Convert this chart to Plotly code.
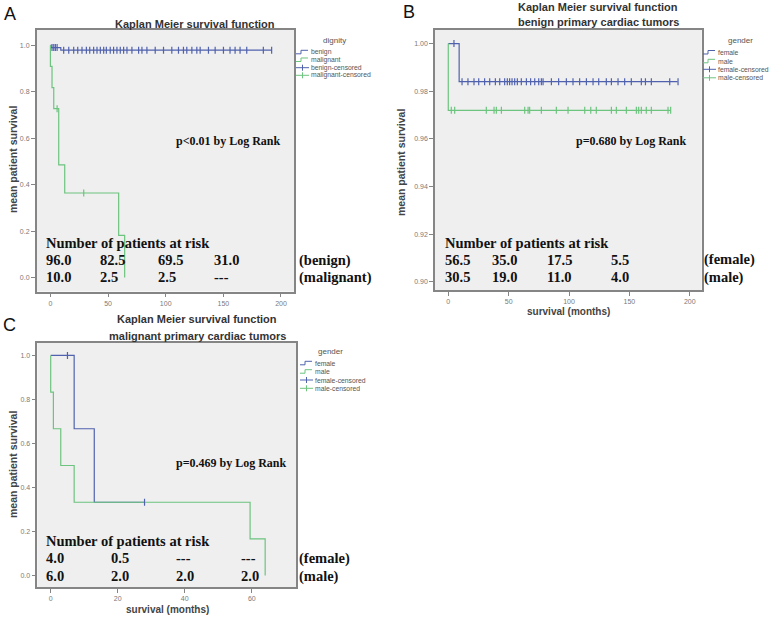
import plotly.graph_objects as go

W, H = 778, 617

# ---------------- data ----------------
# Panel A: all primary cardiac tumors, by dignity
a_benign_t = [0, 0.5, 9, 192]
a_benign_s = [1.0, 0.99, 0.979, 0.979]
a_benign_cens_t = [1.4, 2.9, 4.3, 5.8, 11.5, 15.9, 20.2, 23.7, 27.4, 31.2, 34.1, 37.5,
                   40.4, 43.3, 46.2, 48.5, 51.9, 54.8, 57.7, 60.6, 63.5, 66.4, 70.7, 76.5,
                   79.4, 83.7, 90.9, 98.1, 105.3, 111.1, 115.4, 118.3, 122.7, 127.0, 129.9,
                   137.1, 142.9, 150.1, 155.8, 160.2, 164.5, 170.3, 184.7, 191.9]
a_malig_t = [0, 0, 1.4, 2.9, 7.2, 12.4, 59.2, 64.4]
a_malig_s = [1.0, 0.909, 0.818, 0.727, 0.485, 0.364, 0.182, 0.0]
a_malig_cens_t = [5.8, 28.9]

# Panel B: benign tumors, by gender
b_female_t = [0, 9, 190]
b_female_s = [1.0, 0.984, 0.984]
b_female_cens_t = [4.7, 11.4, 16.3, 21.3, 25.2, 30.1, 34.3, 39.0, 42.6, 46.7, 48.9, 50.8,
                   52.8, 55.0, 57.2, 60.5, 64.7, 68.2, 71.6, 74.9, 77.1, 78.5, 85.4, 91.4,
                   97.8, 103.3, 108.8, 114.4, 119.9, 124.6, 130.9, 135.1, 140.6, 146.1,
                   151.6, 159.9, 163.3, 168.2, 183.4, 190.3]
b_male_t = [0, 0, 184.2]
b_male_s = [1.0, 0.972, 0.972]
b_male_cens_t = [2.5, 5.3, 31.5, 37.9, 39.8, 44.0, 63.3, 66.1, 67.4, 77.1, 89.5, 99.2,
                 113.0, 118.0, 122.6, 135.1, 139.2, 147.5, 155.8, 157.7, 159.9, 164.0,
                 168.2, 182.0, 184.2]

# Panel C: malignant tumors, by gender
c_female_t = [0, 7, 13, 28]
c_female_s = [1.0, 0.667, 0.333, 0.333]
c_female_cens_t = [5, 28]
c_male_t = [0, 0, 0.8, 3, 7, 59.5, 64]
c_male_s = [1.0, 0.833, 0.667, 0.5, 0.333, 0.167, 0.0]

# number at risk tables
a_risk_rows = [["96.0", "82.5", "69.5", "31.0"], ["10.0", "2.5", "2.5", "---"]]
a_risk_labels = ["(benign)", "(malignant)"]
b_risk_rows = [["56.5", "35.0", "17.5", "5.5"], ["30.5", "19.0", "11.0", "4.0"]]
b_risk_labels = ["(female)", "(male)"]
c_risk_rows = [["4.0", "0.5", "---", "---"], ["6.0", "2.0", "2.0", "2.0"]]
c_risk_labels = ["(female)", "(male)"]

a_legend = ["benign", "malignant", "benign-censored", "malignant-censored"]
g_legend = ["female", "male", "female-censored", "male-censored"]

BLUE = "#5062ae"
GREEN = "#6cc47e"


def surv_at(t, times, surv):
    val = surv[0]
    for ti, si in zip(times, surv):
        if ti <= t:
            val = si
    return val


def px(x):
    return x / W


def py(y):
    return 1 - y / H


fig = go.Figure()


def curve(t, s, color, ax):
    fig.add_trace(go.Scatter(x=t, y=s, mode="lines", line=dict(color=color, width=1.2, shape="hv"),
                             xaxis="x" + ax, yaxis="y" + ax, showlegend=False, hoverinfo="skip"))


def cens(ct, t, s, color, ax):
    fig.add_trace(go.Scatter(x=ct, y=[surv_at(v, t, s) for v in ct], mode="markers",
                             marker=dict(symbol="line-ns", size=5, line=dict(color=color, width=1.2)),
                             xaxis="x" + ax, yaxis="y" + ax, showlegend=False, hoverinfo="skip"))


curve(a_benign_t, a_benign_s, BLUE, "")
curve(a_malig_t, a_malig_s, GREEN, "")
cens(a_benign_cens_t, a_benign_t, a_benign_s, BLUE, "")
cens(a_malig_cens_t, a_malig_t, a_malig_s, GREEN, "")

curve(b_female_t, b_female_s, BLUE, "2")
curve(b_male_t, b_male_s, GREEN, "2")
cens(b_female_cens_t, b_female_t, b_female_s, BLUE, "2")
cens(b_male_cens_t, b_male_t, b_male_s, GREEN, "2")

curve(c_female_t, c_female_s, BLUE, "3")
curve(c_male_t, c_male_s, GREEN, "3")
cens(c_female_cens_t, c_female_t, c_female_s, BLUE, "3")

axis_common = dict(showline=True, mirror=True, linecolor="#858585", linewidth=1.5,
                   showgrid=False, zeroline=False, ticks="outside", ticklen=4,
                   tickcolor="#858585", tickwidth=1,
                   tickfont=dict(family="Liberation Sans", size=7, color="#7a7a7a"))

fig.update_layout(
    width=W, height=H, margin=dict(l=0, r=0, t=0, b=0),
    paper_bgcolor="white", plot_bgcolor="#efefef", showlegend=False,
    xaxis=dict(domain=[px(36.7), px(294)], range=[-11.9, 211.3], tickvals=[0, 50, 100, 150, 200],
               anchor="y", **axis_common),
    yaxis=dict(domain=[py(291.5), py(29.5)], range=[-0.060, 1.068], tickvals=[0, 0.2, 0.4, 0.6, 0.8, 1.0],
               tickformat=".1f", anchor="x", **axis_common),
    xaxis2=dict(domain=[px(435), px(701.7)], range=[-11.0, 209.9], tickvals=[0, 50, 100, 150, 200],
                anchor="y2", **axis_common),
    yaxis2=dict(domain=[py(290), py(30)], range=[0.8966, 1.0057],
                tickvals=[0.90, 0.92, 0.94, 0.96, 0.98, 1.00], tickformat=".2f", anchor="x2", **axis_common),
    xaxis3=dict(domain=[px(37.3), px(296)], range=[-4.0, 73.2], tickvals=[0, 20, 40, 60],
                anchor="y3", **axis_common),
    yaxis3=dict(domain=[py(587), py(342.7)], range=[-0.052, 1.058], tickvals=[0, 0.2, 0.4, 0.6, 0.8, 1.0],
                tickformat=".1f", anchor="x3", **axis_common),
)

ann = []
shapes = []
SANS = "Liberation Sans"
SERIF = "Liberation Serif"


def text(x, y, s, size, color="#222", family=SANS, xanchor="center", angle=0):
    ann.append(dict(x=px(x), y=py(y), xref="paper", yref="paper", text=s, showarrow=False,
                    xanchor=xanchor, yanchor="middle", textangle=angle, borderpad=0,
                    font=dict(family=family, size=size, color=color)))


# panel letters
text(10, 14, "A", 18, "#111")
text(409, 12, "B", 18, "#111")
text(9, 325, "C", 18, "#111")

# titles
text(195, 24, "<b>Kaplan Meier survival function</b>", 11, "#333")
text(598, 7, "<b>Kaplan Meier survival function</b>", 11, "#333")
text(598, 22, "<b>benign primary cardiac tumors</b>", 11, "#333")
text(197, 319, "<b>Kaplan Meier survival function</b>", 11, "#333")
text(197, 336, "<b>malignant primary cardiac tumors</b>", 11, "#333")

# axis titles
text(13, 160, "<b>mean patient survival</b>", 10.5, "#444", angle=-90)
text(401, 163, "<b>mean patient survival</b>", 10.5, "#444", angle=-90)
text(13, 465, "<b>mean patient survival</b>", 10.5, "#444", angle=-90)
text(568, 311, "<b>survival (months)</b>", 10, "#444")
text(167, 609, "<b>survival (months)</b>", 10, "#444")

# p-values
text(175, 141, "<b>p<0.01 by Log Rank</b>", 12, "#111", SERIF, "left")
text(575, 141, "<b>p=0.680 by Log Rank</b>", 12, "#111", SERIF, "left")
text(175, 463, "<b>p=0.469 by Log Rank</b>", 12, "#111", SERIF, "left")


def risk(x0, ys, cols, rows, labels, label_x):
    text(x0, ys[0], "<b>Number of patients at risk</b>", 14.5, "#111", SERIF, "left")
    for r, row in enumerate(rows):
        for c, v in enumerate(row):
            text(cols[c], ys[r + 1], "<b>%s</b>" % v, 14.5, "#111", SERIF, "left")
        text(label_x, ys[r + 1], "<b>%s</b>" % labels[r], 14.5, "#111", SERIF, "left")


risk(45, [243, 260, 277], [45, 99.3, 156.7, 213.3], a_risk_rows, a_risk_labels, 298.3)
risk(444, [243, 259.5, 277], [444, 490.7, 546.3, 609.7], b_risk_rows, b_risk_labels, 703)
risk(45, [541, 558, 576], [45, 110, 175, 240], c_risk_rows, c_risk_labels, 298.3)


def legend(title, tx, ty, ix, iys, labels):
    text(tx, ty, title, 8, "#555")
    colors = [BLUE, GREEN, BLUE, GREEN]
    for k, (lab, yy) in enumerate(zip(labels, iys)):
        col = colors[k]
        if k < 2:
            path = "M %f,%f L %f,%f L %f,%f L %f,%f" % (
                px(ix), py(yy + 1.5), px(ix + 5), py(yy + 1.5), px(ix + 5), py(yy - 2), px(ix + 12), py(yy - 2))
            shapes.append(dict(type="path", xref="paper", yref="paper", path=path,
                               line=dict(color=col, width=1)))
        else:
            shapes.append(dict(type="line", xref="paper", yref="paper", x0=px(ix), x1=px(ix + 13),
                               y0=py(yy), y1=py(yy), line=dict(color=col, width=1)))
            shapes.append(dict(type="line", xref="paper", yref="paper", x0=px(ix + 6.5), x1=px(ix + 6.5),
                               y0=py(yy - 3), y1=py(yy + 3), line=dict(color=col, width=1)))
        text(ix + 14, yy, lab, 6.8, "#555", SANS, "left")


legend("dignity", 334, 41, 296, [52.3, 60, 67.7, 75.3], a_legend)
legend("gender", 740, 40.5, 703, [52.5, 61.3, 69.3, 77.8], g_legend)
legend("gender", 330, 351.7, 300, [363.3, 371.7, 380, 388.3], g_legend)

fig.update_layout(annotations=ann, shapes=shapes)
fig.write_html("out.html", config={"displayModeBar": False},
               post_script="document.body.style.margin='0';document.body.style.overflow='hidden';")
